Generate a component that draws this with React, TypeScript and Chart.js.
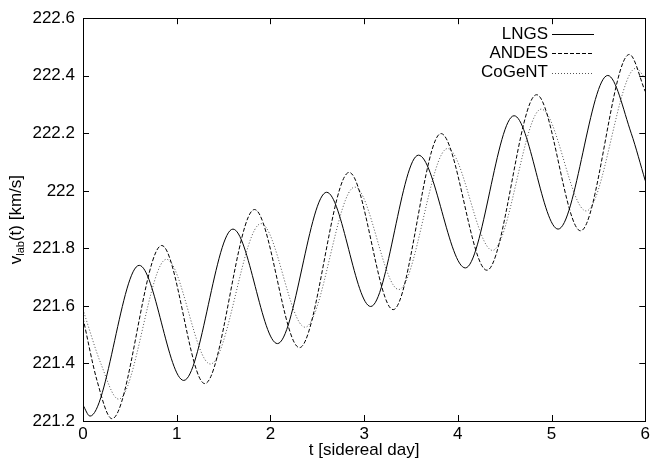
import { useEffect, useRef } from "react";
import { Chart, registerables } from "chart.js";
Chart.register(...registerables);

// LNGS (solid)
const tLngs = [0, 0.075, 0.6, 1.075, 1.6, 2.075, 2.6, 3.07, 3.58, 4.08, 4.6, 5.07, 5.6, 5.85, 6.0];
const vLngs = [221.255, 221.217, 221.741, 221.341, 221.867, 221.469, 221.995, 221.598, 222.124, 221.732, 222.261, 221.867, 222.401, 222.2, 222.035];
// ANDES (dashed)
const tAndes = [0, 0.15, 0.31, 0.84, 1.3, 1.83, 2.31, 2.84, 3.31, 3.82, 4.31, 4.84, 5.31, 5.83, 6.0];
const vAndes = [221.558, 221.34, 221.208, 221.81, 221.33, 221.935, 221.455, 222.064, 221.587, 222.199, 221.724, 222.334, 221.861, 222.474, 222.345];
// CoGeNT (dotted)
const tCogent = [0, 0.19, 0.38, 0.89, 1.36, 1.9, 2.37, 2.9, 3.37, 3.89, 4.37, 4.89, 5.37, 5.9, 6.0];
const vCogent = [221.587, 221.4, 221.276, 221.762, 221.398, 221.886, 221.526, 222.013, 221.657, 222.147, 221.793, 222.284, 221.93, 222.426, 222.39];

const seriesNames = ["LNGS", "ANDES", "CoGeNT"];
const xTickValues = [0, 1, 2, 3, 4, 5, 6];
const yTickValues = [221.2, 221.4, 221.6, 221.8, 222, 222.2, 222.4, 222.6];

const FONT = "Liberation Sans, Arial, Helvetica, sans-serif";

const toPoints = (t: number[], v: number[]) => t.map((x, i) => ({ x, y: v[i] }));

export default function App() {
  const ref = useRef<HTMLCanvasElement | null>(null);
  useEffect(() => {
    if (!ref.current) return;
    const styles = [
      { color: "#000000", dash: [] as number[] },
      { color: "#000000", dash: [4, 2] },
      { color: "#555555", dash: [1, 2] },
    ];
    const framePlugin = {
      id: "frame",
      afterDraw(chart: any) {
        const ctx = chart.ctx;
        const a = chart.chartArea;
        const xs = chart.scales.x;
        const ys = chart.scales.y;
        ctx.save();
        ctx.strokeStyle = "#000";
        ctx.lineWidth = 1;
        ctx.setLineDash([]);
        ctx.strokeRect(Math.round(a.left) + 0.5, Math.round(a.top) + 0.5, Math.round(a.right - a.left), Math.round(a.bottom - a.top));
        const L = 6;
        ctx.beginPath();
        xTickValues.forEach((v) => {
          const px = Math.round(xs.getPixelForValue(v)) + 0.5;
          ctx.moveTo(px, a.bottom);
          ctx.lineTo(px, a.bottom - L);
          ctx.moveTo(px, a.top);
          ctx.lineTo(px, a.top + L);
        });
        yTickValues.forEach((v) => {
          const py = Math.round(ys.getPixelForValue(v)) + 0.5;
          ctx.moveTo(a.left, py);
          ctx.lineTo(a.left + L, py);
          ctx.moveTo(a.right, py);
          ctx.lineTo(a.right - L, py);
        });
        ctx.stroke();

        // legend
        ctx.font = `17px ${FONT}`;
        ctx.textAlign = "right";
        ctx.textBaseline = "middle";
        ctx.fillStyle = "#000";
        seriesNames.forEach((name, i) => {
          const y = 34 + i * 19.3;
          ctx.fillText(name, 548, y);
          ctx.strokeStyle = styles[i].color;
          ctx.setLineDash(styles[i].dash);
          ctx.beginPath();
          ctx.moveTo(552, Math.round(y) + 0.5);
          ctx.lineTo(594, Math.round(y) + 0.5);
          ctx.stroke();
        });
        ctx.setLineDash([]);

        // x title
        ctx.textAlign = "center";
        ctx.fillStyle = "#000";
        ctx.fillText("t [sidereal day]", (a.left + a.right) / 2, 450);

        // y title with subscript
        ctx.translate(16, (a.top + a.bottom) / 2);
        ctx.rotate(-Math.PI / 2);
        const big = `17px ${FONT}`;
        const small = `11px ${FONT}`;
        ctx.font = big;
        const w1 = ctx.measureText("v").width;
        const w3 = ctx.measureText("(t) [km/s]").width;
        ctx.font = small;
        const w2 = ctx.measureText("lab").width;
        let x0 = -(w1 + w2 + w3) / 2;
        ctx.textAlign = "left";
        ctx.font = big;
        ctx.fillText("v", x0, 0);
        x0 += w1;
        ctx.font = small;
        ctx.fillText("lab", x0, 5);
        x0 += w2;
        ctx.font = big;
        ctx.fillText("(t) [km/s]", x0, 0);
        ctx.restore();
      },
    };

    const chart = new Chart(ref.current, {
      type: "line",
      data: {
        datasets: [
          { label: seriesNames[0], data: toPoints(tLngs, vLngs) },
          { label: seriesNames[1], data: toPoints(tAndes, vAndes) },
          { label: seriesNames[2], data: toPoints(tCogent, vCogent) },
        ].map((d, i) => ({
          ...d,
          borderColor: styles[i].color,
          borderDash: styles[i].dash,
          borderWidth: 1,
          pointRadius: 0,
          fill: false,
          cubicInterpolationMode: "monotone" as const,
        })),
      },
      options: {
        animation: false,
        responsive: true,
        maintainAspectRatio: false,
        layout: { padding: { left: 0, right: 7, top: 13, bottom: 0 } },
        plugins: { legend: { display: false }, tooltip: { enabled: false } },
        scales: {
          x: {
            type: "linear",
            min: 0,
            max: 6,
            grid: { display: false, drawTicks: false },
            border: { display: false },
            afterFit: (s: any) => {
              s.height = 48;
            },
            afterBuildTicks: (s: any) => {
              s.ticks = xTickValues.map((v) => ({ value: v }));
            },
            ticks: {
              color: "#000",
              font: { family: FONT, size: 17 },
              padding: 3,
              maxRotation: 0,
              callback: (v: any) => String(v),
            },
          },
          y: {
            type: "linear",
            min: 221.2,
            max: 222.6,
            grid: { display: false, drawTicks: false },
            border: { display: false },
            afterFit: (s: any) => {
              s.width = 83;
            },
            afterBuildTicks: (s: any) => {
              s.ticks = yTickValues.map((v) => ({ value: v }));
            },
            ticks: {
              color: "#000",
              font: { family: FONT, size: 17 },
              padding: 8,
              callback: (v: any) => String(Number(Number(v).toFixed(1))),
            },
          },
        },
      },
      plugins: [framePlugin],
    });
    return () => chart.destroy();
  }, []);
  return (
    <div style={{ position: "fixed", left: 0, top: 0, width: 653, height: 469, background: "#fff" }}>
      <canvas ref={ref} />
    </div>
  );
}
